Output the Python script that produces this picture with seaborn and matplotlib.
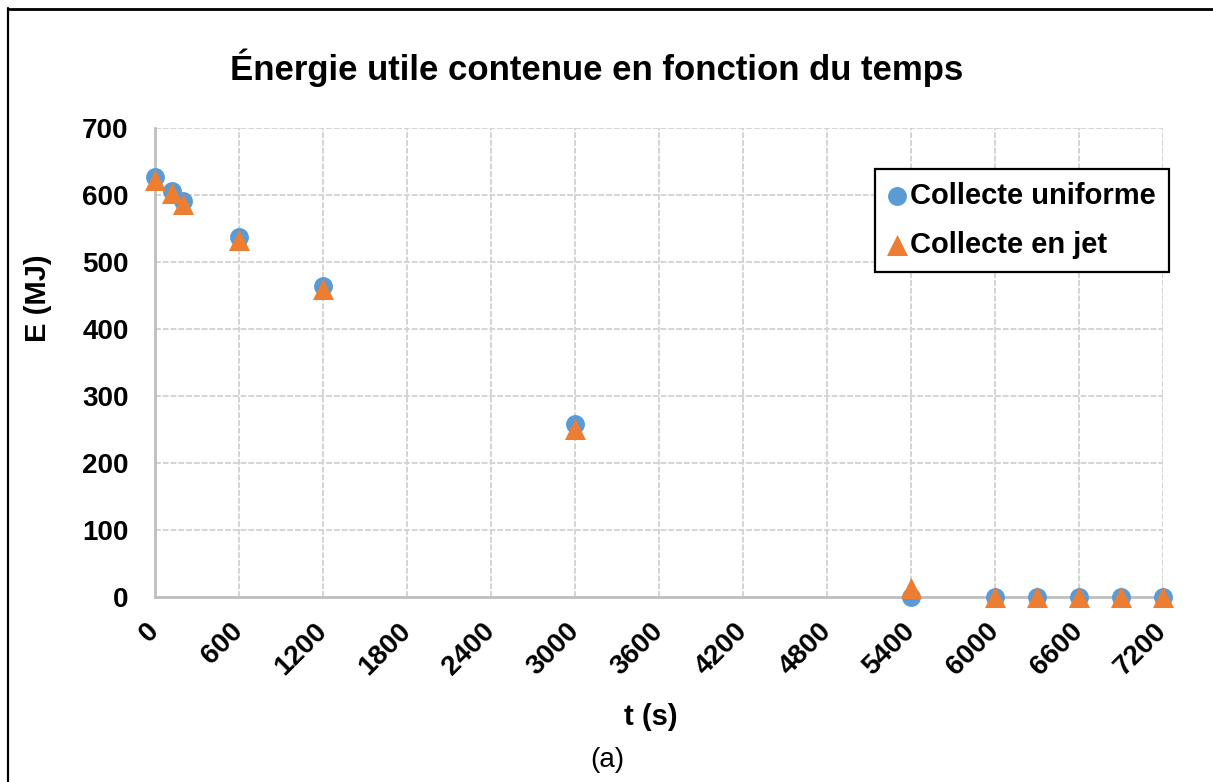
import matplotlib
matplotlib.use("Agg")
import matplotlib.pyplot as plt
import seaborn as sns
from matplotlib.lines import Line2D

# Temps de mesure (s) et énergie utile (MJ) pour les deux modes de collecte
temps = [0, 120, 200, 600, 1200, 3000, 5400, 6000, 6300, 6600, 6900, 7200]
energie_uniforme = [627, 606, 591, 537, 464, 258, 0, 0, 0, 0, 0, 0]
energie_jet = [623, 603, 587, 533, 460, 251, 13, 0, 0, 0, 0, 0]

serie_uniforme = "Collecte uniforme"
serie_jet = "Collecte en jet"
titre = "Énergie utile contenue en fonction du temps"
graduations_x = list(range(0, 7201, 600))
graduations_y = list(range(0, 701, 100))

sns.set_theme(style="white")
plt.rcParams["font.family"] = ["Liberation Sans", "DejaVu Sans"]
for key in ("text.color", "axes.labelcolor", "xtick.color", "ytick.color"):
    plt.rcParams[key] = "black"

W, H = 1213, 782
fig = plt.figure(figsize=(W / 100, H / 100), dpi=100)
fig.patch.set_facecolor("white")

# zone de tracé en pixels : x 155 -> 1163, y 128 -> 597
ax = fig.add_axes([155 / W, 1 - 597 / H, 1008 / W, 469 / H])

bleu = "#5B9BD5"
orange = "#ED7D31"

sns.scatterplot(x=temps, y=energie_uniforme, color=bleu, marker="o", s=185,
                linewidth=0, label=serie_uniforme, ax=ax, clip_on=False, zorder=3)
sns.scatterplot(x=temps, y=energie_jet, color=orange, marker="^", s=230,
                linewidth=0, label=serie_jet, ax=ax, clip_on=False, zorder=4)

ax.set_xlim(0, 7200)
ax.set_ylim(0, 700)
ax.set_xticks(graduations_x)
ax.set_yticks(graduations_y)
ax.set_xticklabels([str(v) for v in graduations_x], rotation=45, ha="right",
                   va="center", rotation_mode="anchor", fontsize=20,
                   fontweight="bold")
ax.set_yticklabels([str(v) for v in graduations_y], fontsize=20,
                   fontweight="bold")
ax.tick_params(axis="x", length=0, pad=22)
ax.tick_params(axis="y", length=0, pad=19)

# quadrillage pointillé gris clair
ax.grid(True, color="#D4D4D4", linestyle=(0, (3, 1)), linewidth=1.4)
ax.set_axisbelow(True)
for side in ("top", "right"):
    ax.spines[side].set_visible(False)
for side in ("left", "bottom"):
    ax.spines[side].set_color("#BFBFBF")
    ax.spines[side].set_linewidth(2)

ax.set_xlabel("t (s)", fontsize=21, fontweight="bold")
ax.set_ylabel("E (MJ)", fontsize=21, fontweight="bold")
ax.xaxis.set_label_coords(0.492, -0.225)
ax.yaxis.set_label_coords(-0.102, 0.6375)

fig.text(597 / W, 1 - 80 / H, titre, ha="center", va="baseline",
         fontsize=25, fontweight="bold")
fig.text(607 / W, 1 - 760 / H, "(a)", ha="center", va="center", fontsize=20)

leg = ax.legend(loc="upper right", bbox_to_anchor=(1169 / W, 1 - 169 / H),
                bbox_transform=fig.transFigure, borderaxespad=0,
                frameon=True, fancybox=False, framealpha=1,
                prop={"weight": "bold", "size": 21},
                handlelength=0.6, handletextpad=0.15, borderpad=0.45,
                labelspacing=0.7, markerscale=1.0)
leg.get_frame().set_edgecolor("black")
leg.get_frame().set_linewidth(1.6)

# cadre noir à gauche et en haut
fig.add_artist(Line2D([7.5 / W, 7.5 / W], [0, 1 - 8 / H], transform=fig.transFigure,
                      color="black", linewidth=1.6))
fig.add_artist(Line2D([7.5 / W, 1], [1 - 9 / H, 1 - 9 / H], transform=fig.transFigure,
                      color="black", linewidth=2.0))

fig.savefig("out.png", dpi=100, facecolor="white")
